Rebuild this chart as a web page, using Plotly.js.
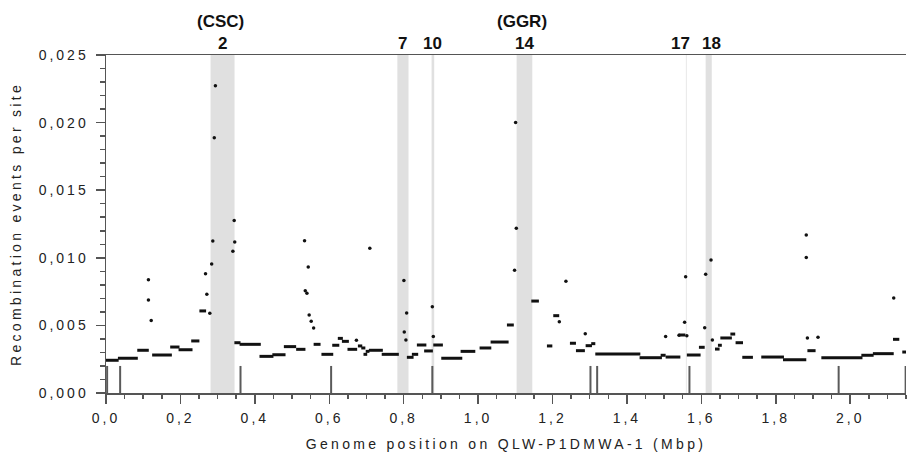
<!DOCTYPE html>
<html>
<head>
<meta charset="utf-8">
<script src="https://cdn.plot.ly/plotly-3.0.1.min.js"></script>
<style>
  html, body { margin: 0; padding: 0; background: #fff; }
  #chart { width: 909px; height: 456px; }
  .xtick text, .ytick text { letter-spacing: 3px; }
  .xtitle, .ytitle { letter-spacing: 3.3px; }
</style>
</head>
<body>
<div id="chart"></div>
<script>
// ---- data (Mbp, recombination events per site) ----
var segStart = [0.000,0.032,0.084,0.124,0.1725,0.195,0.229,0.251,0.345,0.359,0.4125,0.447,0.478,0.511,0.558,0.579,0.608,0.623,0.634,0.649,0.677,0.686,0.692,0.698,0.7065,0.741,0.8086,0.822,0.8355,0.855,0.8796,0.901,0.953,1.004,1.0336,1.0775,1.143,1.185,1.202,1.2468,1.263,1.289,1.304,1.315,1.434,1.4906,1.504,1.539,1.561,1.5935,1.6366,1.6446,1.651,1.678,1.692,1.710,1.761,1.8195,1.885,1.9225,2.030,2.061,2.115,2.140];
var segEnd   = [0.034,0.0855,0.115,0.177,0.1975,0.2325,0.251,0.269,0.3615,0.416,0.450,0.4825,0.511,0.536,0.5766,0.6107,0.627,0.6366,0.6527,0.675,0.6887,0.697,0.702,0.708,0.744,0.787,0.8266,0.839,0.861,0.8785,0.9054,0.9575,0.9925,1.0355,1.082,1.096,1.1634,1.1995,1.218,1.263,1.287,1.306,1.315,1.436,1.494,1.504,1.5436,1.557,1.598,1.609,1.649,1.655,1.682,1.691,1.712,1.7386,1.822,1.882,1.907,2.033,2.063,2.117,2.132,2.150];
var segValue = [0.00242,0.00257,0.00316,0.00281,0.00340,0.00320,0.00385,0.00607,0.00372,0.00360,0.00271,0.00283,0.00343,0.00323,0.00360,0.00286,0.00353,0.00404,0.00382,0.00323,0.00348,0.00333,0.00286,0.00308,0.00316,0.00286,0.00264,0.00286,0.00355,0.00311,0.00355,0.00257,0.00308,0.00333,0.00377,0.00503,0.00680,0.00348,0.00572,0.00368,0.00313,0.00350,0.00365,0.00288,0.00261,0.00279,0.00266,0.00429,0.00281,0.00338,0.00325,0.00353,0.00407,0.00436,0.00372,0.00264,0.00266,0.00246,0.00313,0.00261,0.00279,0.00291,0.00397,0.00303];

var dotX = [0.114,0.114,0.1215,0.2675,0.271,0.279,0.284,0.287,0.291,0.294,0.341,0.3445,0.346,0.5336,0.5435,0.5355,0.540,0.546,0.5515,0.558,0.673,0.709,0.8006,0.808,0.8016,0.806,0.877,0.8796,1.1008,1.1027,1.098,1.2183,1.236,1.288,1.504,1.540,1.555,1.5578,1.561,1.609,1.6116,1.626,1.6296,1.882,1.882,1.885,1.9135,2.117];
var dotY = [0.00838,0.00688,0.00537,0.00882,0.00730,0.00590,0.00954,0.01124,0.01888,0.02273,0.01048,0.01275,0.01117,0.01127,0.00932,0.00757,0.00737,0.00577,0.00530,0.00481,0.00390,0.01070,0.00833,0.00592,0.00451,0.00392,0.00638,0.00417,0.02000,0.01218,0.00907,0.00527,0.00826,0.00439,0.00417,0.00427,0.00523,0.00860,0.00424,0.00483,0.00878,0.00984,0.00392,0.01169,0.01003,0.00407,0.00412,0.00703];

var breakpointX = [0.003,0.038,0.3615,0.605,0.877,1.302,1.320,1.568,1.969,2.149];

var regionStart = [0.281,0.783,0.875,1.1035,1.5585,1.6115];
var regionEnd   = [0.3455,0.813,0.882,1.1457,1.5605,1.628];
var regionLabel = ['2','7','10','14','17','18'];
var regionGroup = ['(CSC)','','','(GGR)','',''];

var xTickVals = [0,0.2,0.4,0.6,0.8,1.0,1.2,1.4,1.6,1.8,2.0];
var yTickVals = [0,0.005,0.010,0.015,0.020,0.025];

// ---- styles ----
var breakpointHeight = 0.002;
var labelShift = [0,0,0,0,-6,3];

// build traces
var sx = [], sy = [];
for (var i = 0; i < segStart.length; i++) {
  sx.push(segStart[i], segEnd[i], null);
  sy.push(segValue[i], segValue[i], null);
}
var bx = [], by = [];
for (var j = 0; j < breakpointX.length; j++) {
  bx.push(breakpointX[j], breakpointX[j], null);
  by.push(0, breakpointHeight, null);
}

var traces = [
  {x: bx, y: by, mode: 'lines', type: 'scatter', line: {color: '#5a5a5a', width: 2}, hoverinfo: 'skip', showlegend: false, cliponaxis: false},
  {x: sx, y: sy, mode: 'lines', type: 'scatter', line: {color: '#111', width: 3}, hoverinfo: 'skip', showlegend: false},
  {x: dotX, y: dotY, mode: 'markers', type: 'scatter', marker: {color: '#111', size: 3.5, symbol: 'circle'}, hoverinfo: 'skip', showlegend: false}
];

var shapes = [], annotations = [];
for (var k = 0; k < regionStart.length; k++) {
  shapes.push({type: 'rect', xref: 'x', yref: 'paper', x0: regionStart[k], x1: regionEnd[k], y0: 0, y1: 1,
               fillcolor: '#e0e0e0', line: {width: 0}, layer: 'below'});
  var cx = (regionStart[k] + regionEnd[k]) / 2;
  annotations.push({x: cx, xref: 'x', y: 1, yref: 'paper', yanchor: 'middle', yshift: 12, xshift: labelShift[k],
                    text: regionLabel[k], showarrow: false,
                    font: {family: 'Arial, Liberation Sans, sans-serif', size: 17, color: '#111', weight: 'bold'}});
  if (regionGroup[k]) {
    annotations.push({x: cx, xref: 'x', y: 1, yref: 'paper', yanchor: 'middle', yshift: 34, xshift: labelShift[k] - 2,
                      text: regionGroup[k], showarrow: false,
                      font: {family: 'Arial, Liberation Sans, sans-serif', size: 17, color: '#111', weight: 'bold'}});
  }
}

var axisFont = {family: 'Arial, Liberation Sans, sans-serif', size: 14, color: '#222'};
var layout = {
  width: 909, height: 456,
  margin: {l: 106, r: 3, t: 55, b: 63},
  paper_bgcolor: '#fff', plot_bgcolor: '#fff',
  separators: ', ',
  showlegend: false,
  xaxis: {
    range: [0, 2.15], tickvals: xTickVals, tickformat: '.1f',
    showline: true, linecolor: '#555', linewidth: 1.5, mirror: true,
    ticks: 'outside', ticklen: 9, tickwidth: 1.5, tickcolor: '#555',
    minor: {dtick: 0.05, tick0: 0, ticks: 'outside', ticklen: 4, tickwidth: 1.5, tickcolor: '#555'},
    showgrid: false, zeroline: false, automargin: false,
    tickfont: axisFont, ticklabelstandoff: 3,
    title: {text: 'Genome position on QLW-P1DMWA-1 (Mbp)', font: {family: 'Arial, Liberation Sans, sans-serif', size: 14, color: '#222'}, standoff: 14}
  },
  yaxis: {
    range: [0, 0.025], tickvals: yTickVals, tickformat: '.3f',
    showline: true, linecolor: '#555', linewidth: 1.5,
    ticks: 'outside', ticklen: 9, tickwidth: 1.5, tickcolor: '#555',
    minor: {dtick: 0.001, tick0: 0, ticks: 'outside', ticklen: 5, tickwidth: 1.5, tickcolor: '#555'},
    showgrid: false, zeroline: false, automargin: false,
    tickfont: axisFont, ticklabelstandoff: 4,
    title: {text: 'Recombination events per site', font: {family: 'Arial, Liberation Sans, sans-serif', size: 14, color: '#222'}, standoff: 14}
  },
  shapes: shapes,
  annotations: annotations
};

Plotly.newPlot('chart', traces, layout, {displayModeBar: false, staticPlot: true});
</script>
</body>
</html>
